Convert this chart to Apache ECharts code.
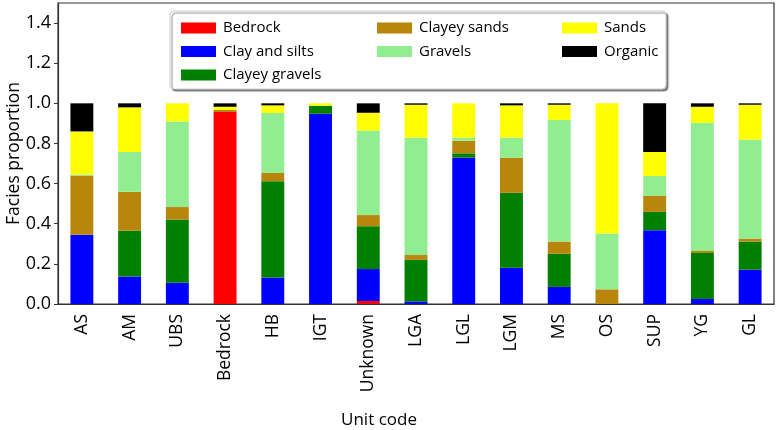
<!DOCTYPE html>
<html>
<head>
<meta charset="utf-8">
<script src="https://cdn.jsdelivr.net/npm/echarts@6/dist/echarts.min.js"></script>
<style>
html, body { margin: 0; padding: 0; background: #fff; }
#panel { width: 780px; height: 430px; }
</style>
</head>
<body>
<div id="panel"></div>
<script>
var units = ['AS', 'AM', 'UBS', 'Bedrock', 'HB', 'IGT', 'Unknown', 'LGA', 'LGL', 'LGM', 'MS', 'OS', 'SUP', 'YG', 'GL'];
var facies = ['Bedrock', 'Clay and silts', 'Clayey gravels', 'Clayey sands', 'Gravels', 'Sands', 'Organic'];
var colors = ['#ff0000', '#0000ff', '#008000', '#b8860b', '#90ee90', '#ffff00', '#000000'];

var bedrock       = [0, 0, 0, 0.957, 0, 0, 0.015, 0, 0, 0, 0, 0, 0, 0, 0];
var clayAndSilts  = [0.345, 0.137, 0.106, 0, 0.132, 0.948, 0.159, 0.013, 0.729, 0.181, 0.085, 0, 0.368, 0.025, 0.171];
var clayeyGravels = [0, 0.228, 0.315, 0, 0.48, 0.04, 0.214, 0.207, 0.022, 0.373, 0.165, 0, 0.091, 0.229, 0.14];
var clayeySands   = [0.295, 0.194, 0.062, 0.01, 0.041, 0, 0.055, 0.024, 0.063, 0.175, 0.061, 0.073, 0.081, 0.01, 0.015];
var gravels       = [0.005, 0.199, 0.427, 0, 0.299, 0, 0.421, 0.585, 0.015, 0.1, 0.606, 0.278, 0.098, 0.639, 0.493];
var sands         = [0.215, 0.222, 0.09, 0.016, 0.038, 0.012, 0.089, 0.164, 0.171, 0.161, 0.076, 0.649, 0.12, 0.08, 0.174];
var organic       = [0.14, 0.02, 0, 0.017, 0.01, 0, 0.047, 0.007, 0, 0.01, 0.007, 0, 0.242, 0.017, 0.007];

var values = [bedrock, clayAndSilts, clayeyGravels, clayeySands, gravels, sands, organic];
var font = 'Open Sans';

function makeLegend(names, left)
{
    return {
        data: names,
        orient: 'vertical',
        left: left,
        top: 15,
        itemWidth: 35,
        itemHeight: 11,
        itemGap: 7.5,
        icon: 'rect',
        textStyle: { fontFamily: font, fontSize: 15, color: '#000', lineHeight: 16, padding: [0, 0, 0, 2] }
    };
}

var myChart = echarts.init(document.getElementById('panel'), null, { renderer: 'canvas' });
myChart.setOption(
{
    animation: false,
    color: colors,
    grid: {
        left: 58, right: 6, top: 3, bottom: 126,
        outerBoundsMode: 'none',
        containLabel: false,
        show: true, borderColor: '#333', borderWidth: 1.2, backgroundColor: 'transparent'
    },
    graphic: [
        {
            type: 'rect', z: 3,
            shape: { x: 170, y: 11, width: 496, height: 78, r: 4 },
            style: { fill: '#fff', stroke: '#cccccc', lineWidth: 1, shadowColor: 'rgba(0,0,0,0.45)', shadowOffsetX: 2, shadowOffsetY: 2, shadowBlur: 1 }
        }
    ],
    legend: [
        makeLegend(facies.slice(0, 3), 176),
        makeLegend(facies.slice(3, 5), 372),
        makeLegend(facies.slice(5, 7), 557)
    ],
    xAxis: {
        type: 'category',
        data: units,
        name: 'Unit code',
        nameLocation: 'middle',
        nameGap: 108,
        nameMoveOverlap: false,
        nameTextStyle: { fontFamily: font, fontSize: 17, color: '#000', padding: [0, 74, 0, 0] },
        axisLine: { lineStyle: { color: '#333', width: 1.2 } },
        axisTick: { alignWithLabel: true, length: 4, lineStyle: { color: '#333' } },
        axisLabel: { rotate: 90, margin: 10, fontFamily: font, fontSize: 17.5, color: '#000', interval: 0 }
    },
    yAxis: {
        type: 'value',
        min: 0,
        max: 1.5,
        interval: 0.2,
        name: 'Facies proportion',
        nameLocation: 'middle',
        nameGap: 35,
        nameMoveOverlap: false,
        nameTextStyle: { fontFamily: font, fontSize: 17.5, color: '#000' },
        axisLine: { show: true, lineStyle: { color: '#333', width: 1.2 } },
        axisTick: { show: true, length: 4, lineStyle: { color: '#333' } },
        splitLine: { show: false },
        axisLabel: {
            showMaxLabel: false,
            margin: 7,
            fontFamily: font, fontSize: 18, color: '#000',
            formatter: function (v) { return v.toFixed(1); }
        }
    },
    series: facies.map(function (name, i)
    {
        return {
            name: name,
            type: 'bar',
            stack: 'total',
            barWidth: '48%',
            data: values[i],
            itemStyle: { color: colors[i] }
        };
    })
});
</script>
</body>
</html>
